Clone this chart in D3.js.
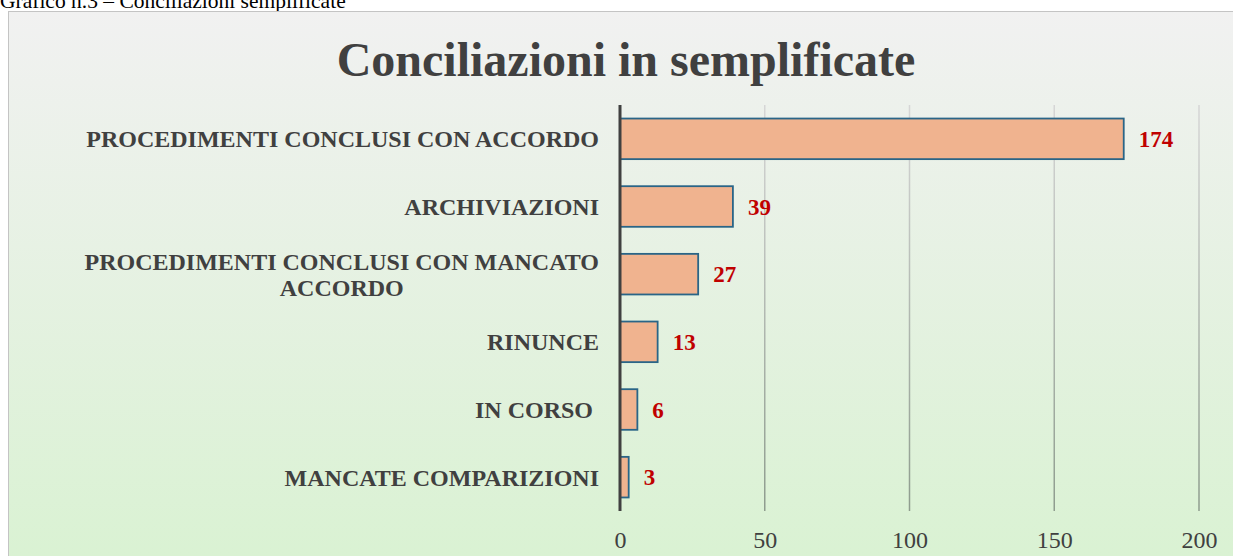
<!DOCTYPE html>
<html>
<head>
<meta charset="utf-8">
<script src="https://cdn.jsdelivr.net/npm/d3@7"></script>
<style>
  body { margin: 0; background: #fff; }
  svg text { font-family: "Liberation Serif", "Times New Roman", serif; white-space: pre; }
</style>
</head>
<body>
<svg id="chart" width="1233" height="556"></svg>
<script>
// dati del grafico
var categories = [
  'PROCEDIMENTI CONCLUSI CON ACCORDO',
  'ARCHIVIAZIONI',
  'PROCEDIMENTI CONCLUSI CON MANCATO ACCORDO',
  'RINUNCE',
  'IN CORSO ',
  'MANCATE COMPARIZIONI'
];
var categoryLines = [
  ['PROCEDIMENTI CONCLUSI CON ACCORDO'],
  ['ARCHIVIAZIONI'],
  ['PROCEDIMENTI CONCLUSI CON MANCATO', 'ACCORDO'],
  ['RINUNCE'],
  ['IN CORSO '],
  ['MANCATE COMPARIZIONI']
];
var values = [174, 39, 27, 13, 6, 3];
var xTicks = [0, 50, 100, 150, 200];
var chartTitle = 'Conciliazioni in semplificate';
var caption = 'Grafico n.3 \u2013 Conciliazioni semplificate';

var svg = d3.select('svg#chart');
var defs = svg.append('defs');

// sfondo sfumato grigio -> verde
var bg = defs.append('linearGradient')
    .attr('id', 'bg').attr('x1', 0).attr('y1', 0).attr('x2', 0).attr('y2', 1);
bg.append('stop').attr('offset', '0%').attr('stop-color', '#f1f1f1');
bg.append('stop').attr('offset', '100%').attr('stop-color', '#d9f2d2');

var gridGrad = defs.append('linearGradient')
    .attr('id', 'gridGrad').attr('gradientUnits', 'userSpaceOnUse')
    .attr('x1', 0).attr('y1', 105).attr('x2', 0).attr('y2', 511);
gridGrad.append('stop').attr('offset', '0%').attr('stop-color', '#d6d6d6');
gridGrad.append('stop').attr('offset', '100%').attr('stop-color', '#8e9c8e');

svg.append('text')
    .attr('x', 0).attr('y', 8)
    .attr('font-size', 21.5).attr('fill', '#000')
    .text(caption);

svg.append('rect')
    .attr('x', 8.5).attr('y', 11.5)
    .attr('width', 1240).attr('height', 560)
    .attr('fill', 'url(#bg)')
    .attr('stroke', '#c4c4c4').attr('stroke-width', 1);

svg.append('text')
    .attr('x', 626).attr('y', 76)
    .attr('text-anchor', 'middle')
    .attr('font-size', 48).attr('font-weight', 'bold')
    .attr('fill', '#404040')
    .text(chartTitle);

var x = d3.scaleLinear().domain([0, 200]).range([620, 1199]);
var y = d3.scaleBand().domain(categories).range([105, 511])
    .paddingInner(0.4).paddingOuter(0.2);

// griglia verticale
svg.append('g').selectAll('line')
    .data(xTicks.filter(function(d) { return d > 0; }))
  .enter().append('line')
    .attr('x1', function(d) { return x(d); })
    .attr('x2', function(d) { return x(d); })
    .attr('y1', 105).attr('y2', 511)
    .attr('stroke', 'url(#gridGrad)').attr('stroke-width', 1.5);

// asse x (solo etichette)
var xAxis = svg.append('g')
    .attr('transform', 'translate(0,511)')
    .call(d3.axisBottom(x).tickValues(xTicks).tickSize(0).tickPadding(20));
xAxis.select('.domain').remove();
xAxis.selectAll('text')
    .attr('font-family', null)
    .attr('font-size', 24).attr('fill', '#404040');

// barre
svg.append('g').selectAll('rect')
    .data(values)
  .enter().append('rect')
    .attr('x', x(0))
    .attr('y', function(d, i) { return y(categories[i]); })
    .attr('width', function(d) { return x(d) - x(0); })
    .attr('height', y.bandwidth())
    .attr('fill', '#f0b38f')
    .attr('stroke', '#2a6587').attr('stroke-width', 1.8);

// etichette valori
svg.append('g').selectAll('text')
    .data(values)
  .enter().append('text')
    .attr('x', function(d) { return x(d) + 15; })
    .attr('y', function(d, i) { return y(categories[i]) + y.bandwidth() / 2; })
    .attr('dy', '0.35em')
    .attr('font-size', 23).attr('font-weight', 'bold')
    .attr('fill', '#c00000')
    .text(function(d) { return d; });

// asse verticale
svg.append('line')
    .attr('x1', x(0)).attr('x2', x(0))
    .attr('y1', 105).attr('y2', 511)
    .attr('stroke', '#404040').attr('stroke-width', 3);

// etichette categorie
var catG = svg.append('g');
categoryLines.forEach(function(lines, i) {
  var cy = y(categories[i]) + y.bandwidth() / 2;
  var t = catG.append('text')
      .attr('font-size', 24).attr('font-weight', 'bold')
      .attr('fill', '#404040');
  if (lines.length === 1) {
    t.attr('x', 599).attr('y', cy).attr('dy', '0.35em')
        .attr('text-anchor', 'end').text(lines[0]);
  } else {
    var tmp = catG.append('text').attr('font-size', 24).attr('font-weight', 'bold').text(lines[0]);
    var w = tmp.node().getComputedTextLength();
    tmp.remove();
    var lh = 26;
    t.attr('text-anchor', 'middle');
    lines.forEach(function(l, j) {
      t.append('tspan')
          .attr('x', 599 - w / 2)
          .attr('y', cy + (j - (lines.length - 1) / 2) * lh)
          .attr('dy', '0.35em')
          .text(l);
    });
  }
});
</script>
</body>
</html>
